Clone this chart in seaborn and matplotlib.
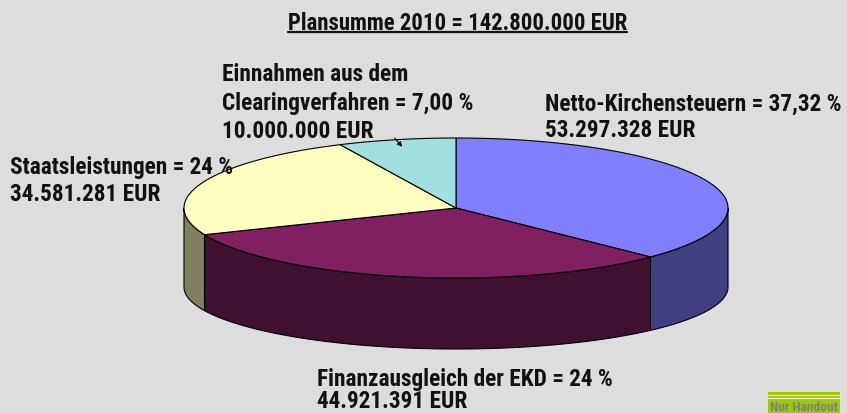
import numpy as np
import matplotlib
matplotlib.use("Agg")
import matplotlib.pyplot as plt
import seaborn as sns
from matplotlib.patches import Polygon, Rectangle
from matplotlib import font_manager as fm

sns.set_theme(style="white")

# choose a narrow bold sans if available (reference uses Arial Narrow Bold)
chosen, stretch = None, "normal"
for f in ["Liberation Sans Narrow", "Arial Narrow", "Roboto Condensed", "Open Sans Condensed",
          "Noto Sans", "DejaVu Sans", "Open Sans", "Roboto", "Lato", "Inter"]:
    try:
        p = fm.findfont(fm.FontProperties(family=f, weight="bold", stretch="condensed"),
                        fallback_to_default=False)
    except Exception:
        continue
    if "ondensed" in p or "arrow" in p:
        chosen, stretch = f, "condensed"
        break
if chosen is None:
    chosen = "Liberation Sans"
plt.rcParams['font.family'] = [chosen, "DejaVu Sans"]
plt.rcParams['font.stretch'] = stretch

# ---- data ----
categories = ["Netto-Kirchensteuern", "Finanzausgleich der EKD", "Staatsleistungen",
              "Einnahmen aus dem Clearingverfahren"]
values = [53297328, 44921391, 34581281, 10000000]
label_texts = [
    "Netto-Kirchensteuern = 37,32 %\n53.297.328 EUR",
    "Finanzausgleich der EKD = 24 %\n44.921.391 EUR",
    "Staatsleistungen = 24 %\n34.581.281 EUR",
    "Einnahmen aus dem\nClearingverfahren = 7,00 %\n10.000.000 EUR",
]
title_text = "Plansumme 2010 = 142.800.000 EUR"
badge_text = "Nur Handout"

top_colors = ["#8080FF", "#802060", "#FFFFC0", "#A0E0E0"]
side_colors = ["#404080", "#401030", "#808060", "#508080"]
bg = "#DDDDDD"

W, H = 847, 414
fig = plt.figure(figsize=(W / 100, H / 100), dpi=100, facecolor=bg)
ax = fig.add_axes([0, 0, 1, 1])
ax.set_xlim(0, W)
ax.set_ylim(H, 0)
ax.set_facecolor(bg)
ax.axis("off")
renderer = fig.canvas.get_renderer()

def fit_size(txt, target_w, start=14):
    tmp = ax.text(0, 0, txt, fontsize=start, fontweight="bold", fontstretch=stretch)
    w = tmp.get_window_extent(renderer).width
    tmp.remove()
    return start * target_w / w

# pie geometry (pixel-like axes units)
cx, cy, a, b = 456, 209, 272, 70
depth, b_bot = 79, 62

vals = np.array(values, dtype=float)
fracs = vals / vals.sum()
ends = 90 - np.cumsum(fracs) * 360
starts = np.concatenate([[90], ends[:-1]])

def top_pt(t):
    t = np.radians(t)
    return cx + a * np.cos(t), cy - b * np.sin(t)

def bot_pt(t):
    t = np.radians(t)
    return cx + a * np.cos(t), cy + depth - b_bot * np.sin(t)

# walls (front half: angles in [-180, 0])
for i, (s, e) in enumerate(zip(starts, ends)):
    for off in (0, -360, 360):
        h2, l2 = min(s + off, 0), max(e + off, -180)
        if h2 > l2:
            ts = np.linspace(l2, h2, 80)
            tx, ty = top_pt(ts)
            bx, by = bot_pt(ts[::-1])
            poly = np.column_stack([np.concatenate([tx, bx]), np.concatenate([ty, by])])
            ax.add_patch(Polygon(poly, closed=True, facecolor=side_colors[i],
                                 edgecolor="black", linewidth=0.8, zorder=2))

# tops
for i, (s, e) in enumerate(zip(starts, ends)):
    ts = np.linspace(s, e, 150)
    tx, ty = top_pt(ts)
    poly = np.column_stack([np.concatenate([[cx], tx]), np.concatenate([[cy], ty])])
    ax.add_patch(Polygon(poly, closed=True, facecolor=top_colors[i],
                         edgecolor="black", linewidth=0.8, zorder=3))

fs = fit_size(label_texts[0].split("\n")[0], 298)
tkw = dict(fontsize=fs, fontweight="bold", fontstretch=stretch, color="#111111",
           va="baseline", ha="left", zorder=5)

# (x, baselines) for each label
label_pos = [
    (545, [111, 137]),
    (317, [386, 408]),
    (10, [174, 201]),
    (222, [81, 110, 138]),
]
for txt, (x, bls) in zip(label_texts, label_pos):
    for line, yb in zip(txt.split("\n"), bls):
        ax.text(x, yb, line, **tkw)

ax.annotate("", xy=(404, 150), xytext=(393, 137),
            arrowprops=dict(arrowstyle="-|>", color="black", lw=0.8,
                            mutation_scale=7), zorder=5)

tfs = fit_size(title_text, 339)
t = ax.text(457.5, 29.5, title_text, fontsize=tfs, fontweight="bold", fontstretch=stretch,
            color="#111111", ha="center", va="baseline", zorder=5)

# badge
ax.add_patch(Rectangle((768, 393), 72, 30, facecolor="#99CC00", edgecolor="none", zorder=4))
ax.plot([768, 840], [396, 396], color="white", lw=0.8, zorder=4.5)
ax.plot([768, 840], [399, 399], color="white", lw=0.8, zorder=4.5)
bfs = fit_size(badge_text, 68)
ax.text(804, 411, badge_text, fontsize=bfs, fontweight="bold", fontstretch=stretch,
        color="#808080", ha="center", va="baseline", zorder=5)

fig.canvas.draw()
bb = t.get_window_extent(renderer)
inv = ax.transData.inverted()
(x0, y0), (x1, y1) = inv.transform([[bb.x0, bb.y0], [bb.x1, bb.y1]])
ax.plot([x0, x1], [33, 33], color="#111111", lw=1.6, zorder=5)

fig.savefig("out.png", dpi=100, facecolor=bg)
